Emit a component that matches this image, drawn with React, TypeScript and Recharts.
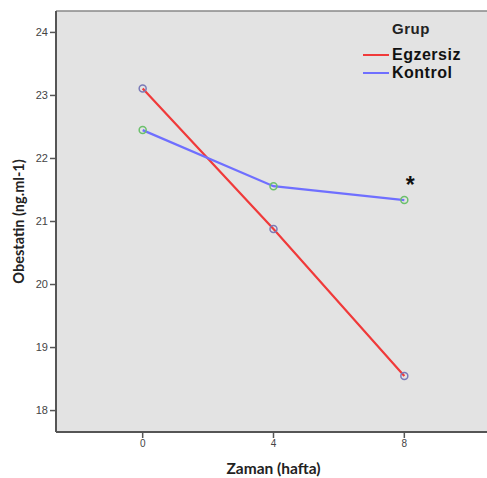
import React from "react";
import {
  LineChart,
  Line,
  XAxis,
  YAxis,
  CartesianGrid,
  ReferenceLine,
  LabelList,
} from "recharts";

const weeks = [0, 4, 8];
const egzersiz = [23.11, 20.88, 18.55];
const kontrol = [22.45, 21.56, 21.34];
const yTicks = [18, 19, 20, 21, 22, 23, 24];
const xTicks = [0, 4, 8];

const data = weeks.map((w, i) => ({ week: w, egzersiz: egzersiz[i], kontrol: kontrol[i] }));

const Y_MIN = 17.66;
const Y_MAX = 24.34;

const FONT = "'Liberation Sans', Arial, sans-serif";

function GroupLegend() {
  const item = (color: string, text: string) => (
    <div style={{ display: "flex", alignItems: "center", height: 18 }}>
      <div style={{ width: 26, height: 2, background: color, marginRight: 3 }} />
      <span style={{ fontSize: 16, fontWeight: 700, color: "#111", letterSpacing: 0.5, lineHeight: "18px" }}>
        {text}
      </span>
    </div>
  );
  return (
    <div style={{ position: "absolute", left: 363, top: 20, fontFamily: FONT }}>
      <div
        style={{
          fontSize: 15,
          fontWeight: 700,
          color: "#222",
          marginLeft: 29,
          marginBottom: 8,
          letterSpacing: 0.5,
          lineHeight: "18px",
        }}
      >
        Grup
      </div>
      {item("#f03a3a", "Egzersiz")}
      {item("#6f6fff", "Kontrol")}
    </div>
  );
}

const Star = (props: any) => {
  const { x, y, index } = props;
  if (index !== 2) return null;
  return (
    <text x={x + 6} y={y - 7} textAnchor="middle" fontSize={23} fontWeight={700} fill="#111" fontFamily={FONT}>
      *
    </text>
  );
};

export default function App() {
  return (
    <div style={{ position: "absolute", left: 0, top: 0, width: 487, height: 478, overflow: "hidden", background: "#fff" }}>
      <LineChart
        width={500}
        height={478}
        data={data}
        margin={{ top: 11, right: 9, left: 0, bottom: 16 }}
      >
        <CartesianGrid fill="#e3e3e3" horizontal={false} vertical={false} stroke="none" />
        <ReferenceLine y={Y_MAX} stroke="#888" strokeWidth={1.5} />
        <XAxis
          type="number"
          dataKey="week"
          domain={[-2.65, 10.65]}
          ticks={xTicks}
          height={30}
          axisLine={{ stroke: "#555", strokeWidth: 2 }}
          tickLine={{ stroke: "#555", strokeWidth: 1.5 }}
          tickSize={6}
          tick={{ fontSize: 10, fill: "#444", fontFamily: FONT }}
          label={{
            value: "Zaman (hafta)",
            position: "insideBottom",
            offset: -12,
            style: { fontSize: 15.5, fontWeight: 700, fill: "#222", fontFamily: "Lato, sans-serif" },
          }}
        />
        <YAxis
          type="number"
          domain={[Y_MIN, Y_MAX]}
          ticks={yTicks}
          width={56}
          axisLine={{ stroke: "#555", strokeWidth: 2 }}
          tickLine={{ stroke: "#555", strokeWidth: 1.5 }}
          tickSize={6}
          tick={{ fontSize: 11, fill: "#444", fontFamily: FONT }}
          label={{
            value: "Obestatin (ng.ml-1)",
            angle: -90,
            position: "insideLeft",
            offset: 19,
            style: { textAnchor: "middle", fontSize: 14.5, fontWeight: 700, fill: "#222", fontFamily: "Lato, sans-serif" },
          }}
        />
        <Line
          dataKey="egzersiz"
          stroke="#f03a3a"
          strokeWidth={2.2}
          dot={{ r: 3.5, stroke: "#7a7ab8", strokeWidth: 1.5, fill: "none" }}
          activeDot={false}
          isAnimationActive={false}
        />
        <Line
          dataKey="kontrol"
          stroke="#6f6fff"
          strokeWidth={2.2}
          dot={{ r: 3.5, stroke: "#6cc06c", strokeWidth: 1.5, fill: "none" }}
          activeDot={false}
          isAnimationActive={false}
        >
          <LabelList dataKey="kontrol" content={<Star />} />
        </Line>
      </LineChart>
      <GroupLegend />
    </div>
  );
}
